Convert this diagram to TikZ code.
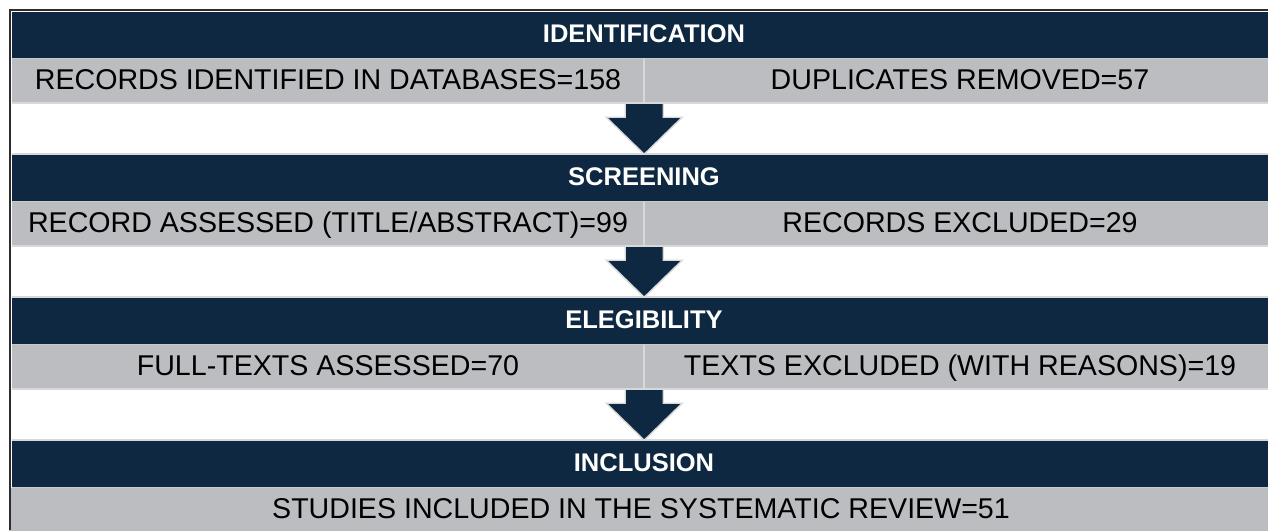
\documentclass[tikz,border=0pt]{standalone}
\usepackage{fontspec}
\setmainfont{Liberation Sans}
\definecolor{navy}{HTML}{0E2841}
\definecolor{band}{RGB}{187,189,192}
\definecolor{rulegray}{RGB}{214,216,218}
\definecolor{sepgray}{RGB}{200,202,205}
\definecolor{frame}{RGB}{45,45,48}
\begin{document}
\begin{tikzpicture}[x=1pt,y=-1pt,
  header/.style={fill=navy, draw=none, minimum width=1264pt, minimum height=46pt,
    inner sep=0pt, text=white, font=\bfseries\fontsize{25.5}{27}\selectfont,
    text height=18pt, text depth=4pt},
  cell/.style={fill=band, draw=none, minimum width=632pt, minimum height=44pt,
    inner sep=0pt, text=black, font=\fontsize{28.6}{30}\selectfont,
    text height=20.5pt, text depth=3pt},
  widecell/.style={cell, minimum width=1264pt},
  hrule/.style={draw=rulegray, line width=1.5pt},
  seprule/.style={draw=sepgray, line width=1pt},
  divider/.style={draw=rulegray, line width=2pt},
  framerule/.style={draw=frame, line width=2pt},
  downarrow/.pic={
    \draw[fill=navy, draw=rulegray, line width=1.4pt, line join=miter]
      (-19,0) -- (19,0) -- (19,14) -- (38,14) -- (0,51) -- (-38,14) -- (-19,14) -- cycle;
  }]
\useasboundingbox (0,0) rectangle (1268,530);
\fill[white] (0,0) rectangle (1268,530);

% identification
\node[header] (h1) at (644,35) {IDENTIFICATION};
\node[cell] (l1) at (328,81) {RECORDS IDENTIFIED IN DATABASES=158};
\node[cell] (r1) at (960,81) {DUPLICATES REMOVED=57};
% screening
\node[header] (h2) at (644,178) {SCREENING};
\node[cell] (l2) at (328,224) {RECORD ASSESSED (TITLE/ABSTRACT)=99};
\node[cell] (r2) at (960,224) {RECORDS EXCLUDED=29};
% elegibility
\node[header] (h3) at (644,321) {ELEGIBILITY};
\node[cell] (l3) at (328,367) {FULL-TEXTS ASSESSED=70};
\node[cell] (r3) at (960,367) {TEXTS EXCLUDED (WITH REASONS)=19};
% inclusion
\node[header] (h4) at (644,464) {INCLUSION};
\node[widecell] (w4) at (641,510) {STUDIES INCLUDED IN THE SYSTEMATIC REVIEW=51};

% separators and rules
\foreach \k in {1,2,3}{
  \draw[seprule] (l\k.north west) -- (r\k.north east);
  \draw[divider] (l\k.north east) -- (l\k.south east);
  \draw[hrule] (l\k.south west) -- (r\k.south east);
}
\foreach \k in {2,3,4}{
  \draw[hrule] ([yshift=0.8pt]h\k.north west) -- ([yshift=0.8pt]h\k.north east);
}
\draw[seprule] (h4.south west) -- (h4.south east);

% block arrows
\pic at (l1.south east) {downarrow};
\pic at (l2.south east) {downarrow};
\pic at (l3.south east) {downarrow};

% frame
\coordinate (tl) at (10,10);
\coordinate (tr) at (1268,10);
\coordinate (bl) at (10,530);
\draw[framerule] (tr) -- (tl) -- (bl);
\end{tikzpicture}
\end{document}
